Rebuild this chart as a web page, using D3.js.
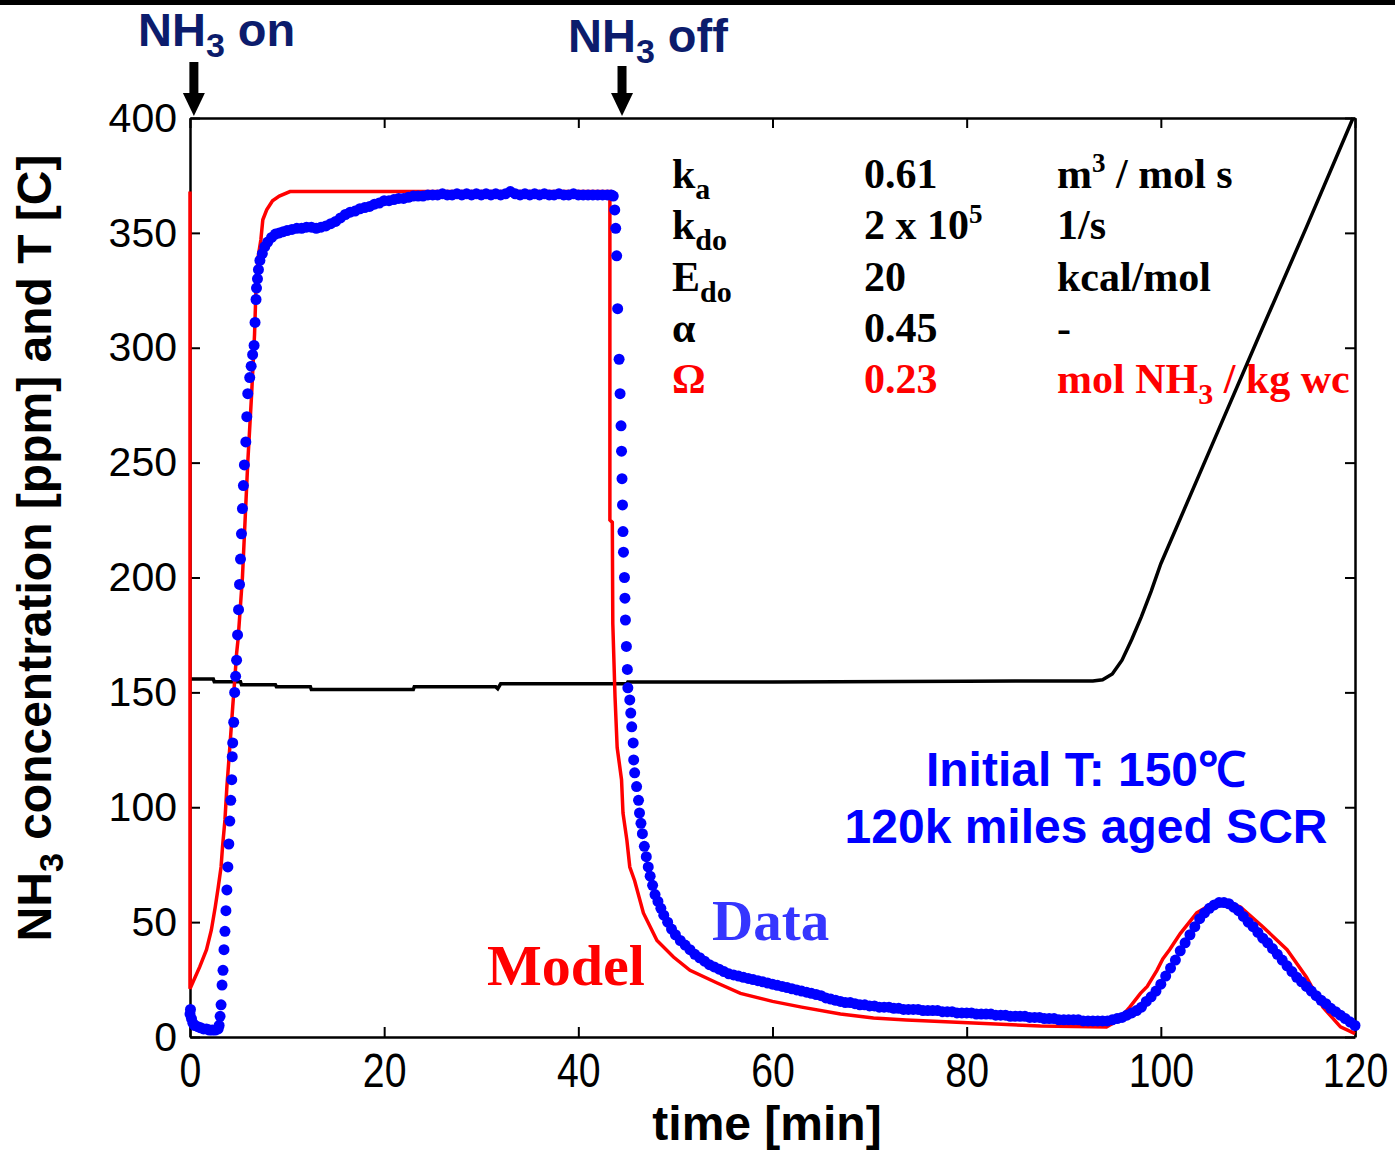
<!DOCTYPE html>
<html>
<head>
<meta charset="utf-8">
<script src="https://cdn.jsdelivr.net/npm/d3@7"></script>
<style>
  body { margin: 0; background: #fff; }
  svg { display: block; }
</style>
</head>
<body>
<svg width="1395" height="1152"></svg>
<script>
// ticks
const xTicks = [0, 20, 40, 60, 80, 100, 120];
const yTicks = [0, 50, 100, 150, 200, 250, 300, 350, 400];

// model (red line): [time min, NH3 ppm]
const modelPts = [
  [0, 368], [0, 21], [0.4, 24.8], [1.0, 30.5], [1.7, 38], [2.2, 46.6], [2.6, 56.6], [2.9, 65],
  [3.2, 74], [3.35, 82.7], [3.6, 94.5], [3.8, 109], [4.1, 126], [4.4, 143.7], [4.6, 155],
  [4.8, 167], [4.95, 173], [5.4, 200], [5.95, 250], [6.35, 280], [6.65, 306], [6.8, 326],
  [7.0, 339], [7.3, 347], [7.5, 355.7], [7.9, 360], [8.5, 364], [9.2, 366], [10.3, 368],
  [43.25, 368], [43.25, 225], [43.5, 224], [43.55, 180], [43.78, 148], [44.0, 126],
  [44.45, 112], [44.6, 97.5], [45.0, 85.7], [45.3, 74], [45.8, 68], [46.7, 54], [48.1, 42],
  [49.8, 34.8], [51.5, 29], [54.3, 23.5], [56.7, 19], [60, 15.5], [63, 13], [67, 10],
  [70.4, 8.3], [73.8, 7.4], [80.7, 6.1], [87.6, 4.8], [94.4, 4.4], [95.1, 6.1], [96.1, 9.6],
  [96.8, 13], [97.9, 19], [98.6, 22], [99.6, 29], [100.2, 34], [100.9, 38], [102, 45],
  [103.7, 54], [105.4, 58.3], [106.4, 59.6], [108.2, 56.6], [110.5, 48], [113, 38],
  [115, 26], [116.7, 13], [118.5, 4.4], [120, 1.5]
];

// measured data (blue dots)
const dataPts = [
  [0, 10], [0.05, 12], [0.15, 8], [0.3, 6], [0.5, 5], [0.8, 4.5], [1.1, 4], [1.4, 3.5],
  [1.7, 3.5], [2.0, 3], [2.3, 3], [2.6, 3], [2.9, 3.5], [3.0, 5], [3.1, 9],
  [3.2, 14], [3.3, 22.6], [3.4, 29], [3.5, 38], [3.6, 46], [3.7, 55], [3.8, 64], [3.9, 74],
  [4.0, 84], [4.1, 94], [4.2, 103], [4.3, 112], [4.35, 122], [4.4, 128], [4.5, 137],
  [4.6, 150], [4.7, 157], [4.8, 164], [4.9, 175], [5.0, 186], [5.1, 197], [5.2, 208],
  [5.3, 219], [5.4, 230], [5.5, 240], [5.6, 249], [5.75, 259], [5.85, 270], [5.95, 280],
  [6.15, 287], [6.3, 292], [6.45, 297], [6.6, 301], [6.7, 311], [6.8, 321], [6.85, 326],
  [6.95, 330], [7.05, 334], [7.2, 338], [7.45, 341], [7.7, 344], [8.0, 346], [8.4, 348],
  [8.8, 349.5], [9.2, 350], [9.6, 350.5], [10, 351], [10.5, 351.5], [11, 352], [11.5, 352],
  [12, 352.5], [12.5, 352.5], [13, 352], [13.5, 352.5], [14, 353], [14.5, 354], [15, 355],
  [15.5, 356.5], [16, 358], [16.5, 359], [17, 359.5], [17.5, 360.5], [18, 361], [18.5, 361.5],
  [19, 362.5], [19.5, 363], [20, 364], [20.5, 364], [21, 364.5], [21.5, 365], [22, 365],
  [22.5, 365.5], [23, 366], [23.5, 366], [24, 366], [24.5, 366.5], [25, 366.5], [25.5, 366.5],
  [26, 367], [26.5, 366.5], [27, 366.5], [27.5, 367], [28, 366.5], [28.5, 367], [29, 366.5],
  [29.5, 367], [30, 366.5], [30.5, 367], [31, 366.5], [31.5, 367], [32, 366.5], [32.5, 367],
  [33, 368], [33.5, 367], [34, 366.5], [34.5, 367], [35, 366.5], [35.5, 367], [36, 366.5],
  [36.5, 367], [37, 366.5], [37.5, 366.5], [38, 367], [38.5, 366.5], [39, 366.5], [39.5, 367],
  [40, 366.5], [40.5, 366.5], [41, 366.5], [41.5, 366.5], [42, 366.5], [42.5, 366.5],
  [43, 366.5], [43.4, 366.5], [43.6, 366],
  [43.75, 360], [43.85, 352], [43.95, 340], [44.05, 317], [44.2, 295], [44.3, 280],
  [44.4, 266], [44.45, 255], [44.5, 243], [44.55, 231.6], [44.6, 220], [44.65, 211],
  [44.75, 200], [44.8, 191], [44.85, 181.5], [44.95, 170], [45.05, 160], [45.1, 152],
  [45.3, 146.7], [45.4, 141], [45.5, 135], [45.65, 128], [45.7, 120.6], [45.8, 115],
  [46.0, 109], [46.2, 103], [46.3, 97.5], [46.45, 93], [46.6, 88.5], [46.8, 83], [47.0, 78.5],
  [47.2, 74], [47.4, 70], [47.65, 66], [47.9, 62], [48.2, 59], [48.5, 56], [48.8, 53],
  [49.2, 50], [49.6, 47], [50.0, 44.5], [50.5, 42], [51.0, 40], [51.5, 38], [52, 36],
  [52.5, 34.5], [53, 33], [53.5, 31.5], [54, 30.5], [54.5, 29.5], [55, 28.5], [55.5, 27.5],
  [56, 27], [56.5, 26.5], [57, 26], [57.5, 25.5], [58, 25], [58.5, 24.5], [59, 24],
  [59.5, 23.5], [60, 23], [60.5, 22.5], [61, 22], [61.5, 21.5], [62, 21], [62.5, 20.5],
  [63, 20], [63.5, 19.5], [64, 19], [64.5, 18.5], [65, 18], [65.5, 17], [66, 16.5],
  [66.5, 16], [67, 15.5], [67.5, 15], [68, 15], [68.5, 14.5], [69, 14], [69.5, 14],
  [70, 13.5], [70.5, 13.5], [71, 13], [71.5, 13], [72, 13], [72.5, 12.5], [73, 12.5],
  [73.5, 12], [74, 12], [74.5, 12], [75, 12], [75.5, 11.5], [76, 11.5], [76.5, 11.5],
  [77, 11.5], [77.5, 11], [78, 11], [78.5, 11], [79, 10.5], [79.5, 10.5], [80, 10.5],
  [80.5, 10.5], [81, 10], [81.5, 10], [82, 10], [82.5, 10], [83, 9.5], [83.5, 9.5],
  [84, 9.5], [84.5, 9], [85, 9], [85.5, 9], [86, 9], [86.5, 8.5], [87, 8.5], [87.5, 8.5],
  [88, 8], [88.5, 8], [89, 8], [89.5, 7.5], [90, 7.5], [90.5, 7.5], [91, 7.5], [91.5, 7.5],
  [92, 7], [92.5, 7], [93, 7], [93.5, 7], [94, 7], [94.5, 7], [95, 7.5], [95.5, 8],
  [96, 8.5], [96.5, 9.5], [97, 10.5], [97.5, 11.5], [98, 13], [98.5, 15.5], [99, 17.5],
  [99.5, 20], [100, 23], [100.5, 26.5], [101, 30], [101.5, 33.5], [102, 37.5], [102.5, 41],
  [103, 44.5], [103.5, 48], [104, 51.5], [104.5, 54], [105, 56], [105.5, 57.5], [106, 58.5],
  [106.5, 58.5], [107, 58], [107.5, 56.5], [108, 55], [108.5, 52.5], [109, 50], [109.5, 48],
  [110, 45.5], [110.5, 43], [111, 41], [111.5, 38.5], [112, 36], [112.5, 33.5], [113, 31],
  [113.5, 28.5], [114, 26], [114.5, 24], [115, 22], [115.5, 20], [116, 18], [116.5, 16],
  [117, 14.5], [117.5, 12.5], [118, 11], [118.5, 9.5], [119, 8], [119.5, 6.5], [120, 5]
];

// temperature (black line): [time min, T C]
const tempPts = [
  [0, 155.8], [2.4, 155.8], [2.5, 154.6], [5.2, 154.6], [5.3, 153.3], [8.8, 153.3],
  [8.9, 152.4], [12.4, 152.4], [12.5, 151.2], [23, 151.2], [23.1, 152.4], [31.5, 152.4],
  [31.7, 151.6], [32, 153.7], [45, 153.7], [45.1, 154.5], [60, 154.5], [80, 154.8],
  [85, 155], [93, 155], [94, 155.5], [95, 158], [96, 164], [97, 173], [98, 183],
  [99, 194], [100, 206], [105, 255], [110, 304], [115, 352.5], [119.8, 400]
];

// parameter table rows
const paramNames = [['k', 'a'], ['k', 'do'], ['E', 'do'], ['α', ''], ['Ω', '']];
const paramValues = ['0.61', '2 x 10', '20', '0.45', '0.23'];
const paramUnits = ['m', '1/s', 'kcal/mol', '-', 'mol NH'];

const svg = d3.select('svg');
const W = 1395, H = 1152;
const margin = { top: 118, right: 40, bottom: 115, left: 190 };
const sans = '"Liberation Sans", Arial, Helvetica, sans-serif';
const serif = '"Liberation Serif", "Times New Roman", serif';

const x = d3.scaleLinear().domain([0, 120]).range([margin.left, W - margin.right]);
const y = d3.scaleLinear().domain([0, 400]).range([H - margin.bottom, margin.top]);

// top black bar
svg.append('rect')
    .attr('x', 0).attr('y', 0)
    .attr('width', W).attr('height', 5)
    .attr('fill', '#000');

// axes, ticks pointing inward
const styleAxis = g => {
    g.select('.domain').attr('stroke', '#000').attr('stroke-width', 2.5);
    g.selectAll('.tick line').attr('stroke', '#000').attr('stroke-width', 2);
};

svg.append('g')
    .attr('transform', `translate(0, ${y(0)})`)
    .call(d3.axisBottom(x).tickValues(xTicks).tickSize(-10).tickSizeOuter(0).tickPadding(15))
    .call(styleAxis)
    .call(g => g.selectAll('.tick text')
        .attr('fill', '#000')
        .style('font-family', sans)
        .style('font-size', '49px')
        .attr('transform', 'scale(0.8,1)'));

svg.append('g')
    .attr('transform', `translate(${x(0)}, 0)`)
    .call(d3.axisLeft(y).tickValues(yTicks).tickSize(-10).tickSizeOuter(0).tickPadding(13))
    .call(styleAxis)
    .call(g => g.selectAll('.tick text')
        .attr('fill', '#000')
        .style('font-family', sans)
        .style('font-size', '41px'));

svg.append('g')
    .attr('transform', `translate(0, ${y(400)})`)
    .call(d3.axisTop(x).tickValues(xTicks).tickSize(-10).tickSizeOuter(0).tickFormat(''))
    .call(styleAxis);

svg.append('g')
    .attr('transform', `translate(${x(120)}, 0)`)
    .call(d3.axisRight(y).tickValues(yTicks).tickSize(-10).tickSizeOuter(0).tickFormat(''))
    .call(styleAxis);

// axis titles
svg.append('text')
    .attr('x', 767).attr('y', 1140)
    .attr('text-anchor', 'middle')
    .style('font-family', sans).style('font-weight', 'bold').style('font-size', '48px')
    .text('time [min]');

const yTitle = svg.append('text')
    .attr('transform', 'translate(51, 548) rotate(-90)')
    .attr('text-anchor', 'middle')
    .style('font-family', sans).style('font-weight', 'bold').style('font-size', '48px');
yTitle.append('tspan').text('NH');
yTitle.append('tspan').attr('dy', 12).style('font-size', '34px').text('3');
yTitle.append('tspan').attr('dy', -12).text(' concentration [ppm] and T [C]');

// parameter table (drawn under the curves)
const table = svg.append('g')
    .style('font-family', serif).style('font-weight', 'bold').style('font-size', '42px');
const colX = [672, 864, 1057];
const rowY = d3.range(paramNames.length).map(i => 188 + i * 51.3);

paramNames.forEach((p, i) => {
    const fill = i === 4 ? '#ff0000' : '#000';
    const t1 = table.append('text').attr('x', colX[0]).attr('y', rowY[i]).attr('fill', fill);
    t1.append('tspan').text(p[0]);
    if (p[1]) t1.append('tspan').attr('dy', 11).style('font-size', '30px').text(p[1]);

    const t2 = table.append('text').attr('x', colX[1]).attr('y', rowY[i]).attr('fill', fill);
    t2.append('tspan').text(paramValues[i]);
    if (i === 1) t2.append('tspan').attr('dy', -16).style('font-size', '27px').text('5');

    const t3 = table.append('text').attr('x', colX[2]).attr('y', rowY[i]).attr('fill', fill);
    t3.append('tspan').text(paramUnits[i]);
    if (i === 0) {
        t3.append('tspan').attr('dy', -16).style('font-size', '27px').text('3');
        t3.append('tspan').attr('dy', 16).text(' / mol s');
    }
    if (i === 4) {
        t3.append('tspan').attr('dy', 11).style('font-size', '30px').text('3');
        t3.append('tspan').attr('dy', -11).text(' / kg wc');
    }
});

// curves
const line = d3.line().x(d => x(d[0])).y(d => y(d[1]));

svg.append('path')
    .datum(tempPts)
    .attr('d', line)
    .attr('fill', 'none')
    .attr('stroke', '#000')
    .attr('stroke-width', 3.5);

svg.append('path')
    .datum(modelPts)
    .attr('d', line)
    .attr('fill', 'none')
    .attr('stroke', '#ff0000')
    .attr('stroke-width', 3.5);

svg.append('g')
    .selectAll('circle')
    .data(dataPts)
    .enter().append('circle')
    .attr('cx', d => x(d[0]))
    .attr('cy', d => y(d[1]))
    .attr('r', 5.5)
    .attr('fill', '#0000ff');

// labels
svg.append('text')
    .attr('x', 487).attr('y', 985)
    .attr('fill', '#ff0000')
    .style('font-family', serif).style('font-weight', 'bold').style('font-size', '58px')
    .text('Model');

svg.append('text')
    .attr('x', 712).attr('y', 940)
    .attr('fill', '#3535ff')
    .style('font-family', serif).style('font-weight', 'bold').style('font-size', '57px')
    .text('Data');

const note = svg.append('g')
    .attr('fill', '#0000ff')
    .style('font-family', sans).style('font-weight', 'bold').style('font-size', '48px')
    .attr('text-anchor', 'middle');
note.append('text').attr('x', 1086).attr('y', 786).text('Initial T: 150\u2103');
note.append('text').attr('x', 1086).attr('y', 843).text('120k miles aged SCR');

// NH3 on / off markers
const markers = [
    { label: ' on', t: 0.4, lx: 138, ly: 46, top: 62 },
    { label: ' off', t: 44.5, lx: 568, ly: 52, top: 66 }
];
markers.forEach(m => {
    const txt = svg.append('text')
        .attr('x', m.lx).attr('y', m.ly)
        .attr('fill', '#0c1c6c')
        .style('font-family', sans).style('font-weight', 'bold').style('font-size', '47px');
    txt.append('tspan').text('NH');
    txt.append('tspan').attr('dy', 11).style('font-size', '34px').text('3');
    txt.append('tspan').attr('dy', -11).text(m.label);

    const cx = x(m.t);
    const tip = y(400) - 2;
    svg.append('rect')
        .attr('x', cx - 4.5).attr('y', m.top)
        .attr('width', 9).attr('height', tip - m.top - 20)
        .attr('fill', '#000');
    svg.append('path')
        .attr('d', `M${cx - 11},${tip - 23} L${cx + 11},${tip - 23} L${cx},${tip} Z`)
        .attr('fill', '#000');
});
</script>
</body>
</html>
